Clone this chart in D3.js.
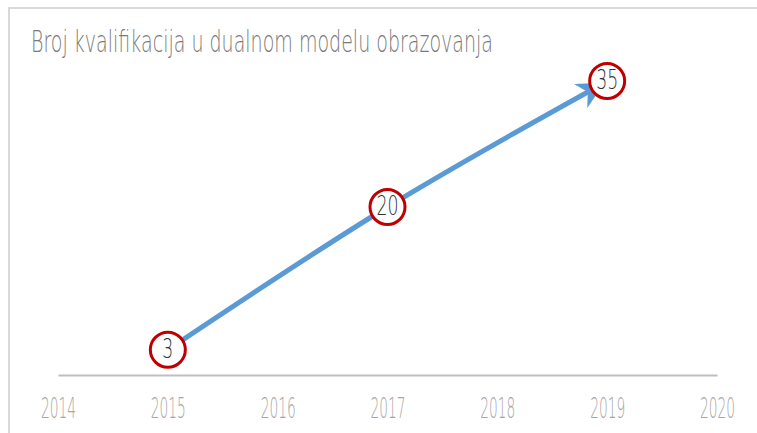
<!DOCTYPE html>
<html>
<head>
<meta charset="utf-8">
<script src="https://cdn.jsdelivr.net/npm/d3@7"></script>
<style>
  body { margin: 0; background: #fff; }
  text { font-family: "DejaVu Sans", "Liberation Sans Narrow", sans-serif; font-weight: 200; }
</style>
</head>
<body>
<div id="chart"></div>
<script>
var title = "Broj kvalifikacija u dualnom modelu obrazovanja";
var years = [2015, 2017, 2019];
var values = [3, 20, 35];
var tickYears = [2014, 2015, 2016, 2017, 2018, 2019, 2020];

var W = 757, H = 433;

var svg = d3.select("#chart").append("svg")
  .attr("width", W)
  .attr("height", H);

// chart frame
svg.append("path")
  .attr("d", "M9," + H + " V8 H" + W)
  .attr("fill", "none")
  .attr("stroke", "#d9d9d9")
  .attr("stroke-width", 2);

var x = d3.scaleLinear().domain([2014, 2020]).range([58, 717]);
var y = d3.scaleLinear().domain([0, 40]).range([375, 39]);

// title
svg.append("text")
  .attr("x", 31)
  .attr("y", 52)
  .attr("fill", "#7a7a7a")
  .attr("font-size", 30)
  .attr("textLength", 462)
  .attr("lengthAdjust", "spacingAndGlyphs")
  .text(title);

// axis
var xAxis = d3.axisBottom(x)
  .tickValues(tickYears)
  .tickFormat(d3.format("d"))
  .tickSize(0)
  .tickPadding(22);

var gx = svg.append("g")
  .attr("transform", "translate(0," + y(0) + ")")
  .call(xAxis);

gx.select(".domain")
  .attr("stroke", "#bfbfbf")
  .attr("stroke-width", 2);

gx.selectAll("text")
  .attr("fill", "#a6a6a6")
  .attr("font-size", 29)
  .attr("textLength", 35)
  .attr("lengthAdjust", "spacingAndGlyphs");

// arrow marker
var defs = svg.append("defs");
defs.append("marker")
  .attr("id", "arrow")
  .attr("viewBox", "0 0 10 10")
  .attr("refX", 6)
  .attr("refY", 5)
  .attr("markerWidth", 5.5)
  .attr("markerHeight", 5.5)
  .attr("orient", "auto")
  .append("path")
  .attr("d", "M0,0 L10,5 L0,10 L3,5 Z")
  .attr("fill", "#5b9bd5");

var pts = years.map(function(d, i) { return [x(d), y(values[i])]; });

// shorten the last segment so the arrow tip sits under the circle
var last = pts[pts.length - 1];
var prev = pts[pts.length - 2];
var dx = last[0] - prev[0], dy = last[1] - prev[1];
var len = Math.sqrt(dx * dx + dy * dy);
var endPt = [last[0] - dx / len * 14, last[1] - dy / len * 14];
var linePts = pts.slice(0, -1).concat([endPt]);

var line = d3.line()
  .curve(d3.curveCatmullRom.alpha(0.5));

svg.append("path")
  .attr("d", line(linePts))
  .attr("fill", "none")
  .attr("stroke", "#5b9bd5")
  .attr("stroke-width", 5)
  .attr("marker-end", "url(#arrow)");

// labelled circles
var g = svg.selectAll(".pt")
  .data(years)
  .enter().append("g")
  .attr("class", "pt")
  .attr("transform", function(d, i) { return "translate(" + x(d) + "," + y(values[i]) + ")"; });

g.append("circle")
  .attr("r", 17.5)
  .attr("fill", "#fff")
  .attr("stroke", "#c00000")
  .attr("stroke-width", 3);

g.append("text")
  .attr("text-anchor", "middle")
  .attr("y", 8)
  .attr("fill", "#333")
  .attr("font-size", 27)
  .attr("textLength", function(d, i) { return String(values[i]).length * 11; })
  .attr("lengthAdjust", "spacingAndGlyphs")
  .text(function(d, i) { return values[i]; });
</script>
</body>
</html>
